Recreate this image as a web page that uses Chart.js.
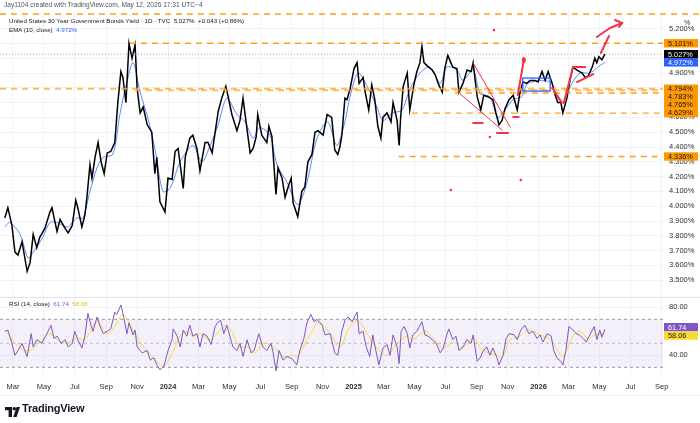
<!DOCTYPE html>
<html>
<head>
<meta charset="utf-8">
<script src="https://cdn.jsdelivr.net/npm/chart.js@4.4.1/dist/chart.umd.min.js"></script>
<style>
  body { margin: 0; background: #fff; width: 700px; height: 423px; overflow: hidden; position: relative; font-family: "Liberation Sans", Arial, sans-serif; }
  #pricePane { position: absolute; left: 0; top: 0; width: 700px; height: 297px; }
  #rsiPane { position: absolute; left: 0; top: 297px; width: 700px; height: 126px; }
  .txt { position: absolute; white-space: nowrap; color: #131722; font-size: 6.6px; line-height: 1; }
  .sep { position: absolute; left: 0; width: 700px; height: 1px; background: #e0e3eb; }
</style>
</head>
<body>
<div id="pricePane"><canvas id="priceChart"></canvas></div>
<div id="rsiPane"><canvas id="rsiChart"></canvas></div>
<div class="sep" style="top:297px"></div>
<div class="sep" style="top:395px;background:#eceef2"></div>

<div class="txt" style="left:4px;top:2px;color:#50535e">Jay1104 created with TradingView.com, May 12, 2026 17:31 UTC−4</div>
<div class="txt" style="left:9px;top:18px;font-size:6.2px">United States 30 Year Government Bonds Yield · 1D · TVC&nbsp; 5.027%&nbsp; +0.043 (+0.86%)</div>
<div class="txt" style="left:9px;top:26.5px;font-size:6.2px">EMA (10, close)&nbsp; <span style="color:#2962ff">4.972%</span></div>
<div class="txt" style="left:9px;top:301px;font-size:6.2px">RSI (14, close)&nbsp; <span style="color:#7e57c2">61.74</span>&nbsp; <span style="color:#f0b90b">58.06</span></div>
<div class="txt" style="left:684px;top:19px;font-size:7px;color:#2a2e39">%</div>

<div style="position:absolute;left:5px;top:403px;">
  <svg width="16" height="10" viewBox="0 0 16 10"><path d="M0 0h7v10H3.6V3.3H0z" fill="#131722"/><circle cx="9.3" cy="1.8" r="1.8" fill="#131722"/><path d="M8.2 10L11.6 0H15L11.6 10z" fill="#131722"/></svg>
</div>
<div class="txt" style="left:22px;top:402.5px;font-size:11px;font-weight:bold;letter-spacing:-0.2px">TradingView</div>

<script>
// --- price (daily close) ---
const priceDates = [
  '2023-02-13','2023-02-19','2023-02-27','2023-03-05','2023-03-11','2023-03-19','2023-03-29','2023-04-04','2023-04-10','2023-04-17',
  '2023-04-23','2023-05-03','2023-05-13','2023-05-17','2023-05-27','2023-06-02','2023-06-12','2023-06-18','2023-06-26','2023-07-03',
  '2023-07-07','2023-07-15','2023-07-21','2023-07-25','2023-07-31','2023-08-04','2023-08-10','2023-08-16','2023-08-22','2023-08-28',
  '2023-09-03','2023-09-10','2023-09-18','2023-09-24','2023-09-30','2023-10-04','2023-10-10','2023-10-16','2023-10-22','2023-10-28',
  '2023-11-01','2023-11-07','2023-11-13','2023-11-21','2023-11-30','2023-12-06','2023-12-10','2023-12-16','2023-12-26','2024-01-01',
  '2024-01-09','2024-01-15','2024-01-21','2024-01-31','2024-02-04','2024-02-13','2024-02-19','2024-02-27','2024-03-04','2024-03-14',
  '2024-03-20','2024-03-28','2024-04-03','2024-04-09','2024-04-16','2024-04-24','2024-04-28','2024-05-06','2024-05-16','2024-05-22',
  '2024-05-28','2024-06-03','2024-06-11','2024-06-17','2024-06-23','2024-06-26','2024-07-04','2024-07-14','2024-07-18','2024-07-24',
  '2024-08-01','2024-08-05','2024-08-13','2024-08-19','2024-08-25','2024-08-31','2024-09-04','2024-09-13','2024-09-21','2024-09-27',
  '2024-10-03','2024-10-11','2024-10-17','2024-10-23','2024-11-02','2024-11-10','2024-11-19','2024-11-25','2024-12-01','2024-12-05',
  '2024-12-09','2024-12-15','2024-12-19','2024-12-25','2025-01-02','2025-01-08','2025-01-12','2025-01-20','2025-01-24','2025-01-31',
  '2025-02-06','2025-02-12','2025-02-18','2025-02-24','2025-02-28','2025-03-08','2025-03-16','2025-03-20','2025-03-28','2025-04-01',
  '2025-04-04','2025-04-09','2025-04-17','2025-04-22','2025-04-30','2025-05-06','2025-05-12','2025-05-16','2025-05-20','2025-05-26',
  '2025-06-05','2025-06-11','2025-06-17','2025-06-25','2025-06-30','2025-07-06','2025-07-12','2025-07-16','2025-07-24','2025-07-28',
  '2025-08-05','2025-08-13','2025-08-21','2025-08-25','2025-08-29','2025-09-02','2025-09-09','2025-09-15','2025-09-23','2025-10-03',
  '2025-10-09','2025-10-15','2025-10-21','2025-10-27','2025-11-04','2025-11-12','2025-11-20','2025-11-25','2025-12-01','2025-12-09',
  '2025-12-15','2025-12-25','2025-12-31','2026-01-08','2026-01-14','2026-01-20','2026-01-28','2026-02-02','2026-02-08','2026-02-14',
  '2026-02-18','2026-02-26','2026-03-04','2026-03-10','2026-03-18','2026-03-28','2026-04-03','2026-04-09','2026-04-17','2026-04-22',
  '2026-04-26','2026-04-30','2026-05-06','2026-05-12'
];
const priceValues = [
  3.92,3.99,3.87,3.69,3.67,3.76,3.56,3.62,3.81,3.72,
  3.79,3.85,3.96,3.99,3.83,3.91,3.85,3.82,3.87,4.04,
  3.99,3.86,3.94,4.06,4.28,4.19,4.33,4.43,4.30,4.22,
  4.36,4.37,4.43,4.70,4.91,4.87,4.70,5.10,5.00,5.09,
  4.80,4.63,4.67,4.55,4.50,4.22,4.33,4.03,3.96,4.19,
  4.18,4.37,4.39,4.12,4.33,4.46,4.48,4.39,4.24,4.43,
  4.43,4.36,4.50,4.64,4.73,4.81,4.75,4.62,4.51,4.58,
  4.73,4.57,4.36,4.39,4.47,4.62,4.48,4.43,4.54,4.47,
  4.08,4.26,4.19,4.06,4.13,4.19,4.02,3.93,4.10,4.13,
  4.30,4.35,4.50,4.51,4.48,4.62,4.60,4.38,4.35,4.40,
  4.48,4.73,4.72,4.79,4.93,4.97,4.83,4.87,4.77,4.65,
  4.82,4.72,4.54,4.46,4.60,4.63,4.57,4.70,4.58,4.41,
  4.60,4.81,4.90,4.65,4.82,4.91,4.97,5.08,4.97,4.95,
  4.92,4.89,4.83,4.77,4.93,5.02,4.97,4.94,4.93,4.77,
  4.83,4.92,4.91,4.97,4.85,4.74,4.65,4.75,4.74,4.72,
  4.63,4.55,4.58,4.66,4.72,4.75,4.65,4.76,4.84,4.83,
  4.85,4.85,4.84,4.91,4.85,4.91,4.83,4.76,4.70,4.70,
  4.63,4.73,4.85,4.94,4.92,4.90,4.87,4.88,4.94,5.00,
  4.97,5.01,4.99,5.027
];

// --- EMA (10, close) ---
const emaDates = [
  '2023-02-13','2023-02-23','2023-03-15','2023-03-31','2023-04-10','2023-04-29','2023-05-13','2023-05-27','2023-06-16','2023-07-05',
  '2023-07-17','2023-07-31','2023-08-14','2023-08-26','2023-09-14','2023-09-28','2023-10-12','2023-10-24','2023-11-07','2023-11-22',
  '2023-12-06','2023-12-22','2024-01-05','2024-01-25','2024-02-19','2024-03-08','2024-03-24','2024-04-09','2024-04-26','2024-05-16',
  '2024-06-01','2024-06-17','2024-06-30','2024-07-20','2024-08-03','2024-08-23','2024-09-13','2024-10-01','2024-10-21','2024-11-11',
  '2024-11-29','2024-12-15','2024-12-25','2025-01-10','2025-01-28','2025-02-16','2025-02-28','2025-03-20','2025-04-07','2025-04-22',
  '2025-05-12','2025-06-01','2025-06-21','2025-07-04','2025-07-24','2025-08-05','2025-08-25','2025-09-08','2025-09-27','2025-10-13',
  '2025-10-31','2025-11-12','2025-11-29','2025-12-11','2026-01-24','2026-02-06','2026-02-18','2026-03-08','2026-03-24','2026-04-12',
  '2026-05-02','2026-05-12'
];
const emaValues = [
  3.86,3.89,3.81,3.65,3.69,3.79,3.89,3.89,3.86,3.92,
  3.92,4.10,4.26,4.33,4.35,4.62,4.84,4.97,4.77,4.60,
  4.39,4.10,4.12,4.30,4.41,4.30,4.41,4.55,4.73,4.62,
  4.57,4.46,4.53,4.48,4.28,4.16,4.01,4.16,4.46,4.57,
  4.41,4.57,4.74,4.90,4.81,4.67,4.58,4.63,4.65,4.79,
  4.90,4.94,4.83,4.94,4.92,4.85,4.92,4.76,4.74,4.60,
  4.67,4.72,4.74,4.83,4.84,4.74,4.70,4.83,4.90,4.90,
  4.95,4.972
];

// --- RSI (14, close) and its moving average ---
const rsiDates = [
  '2023-02-13','2023-02-19','2023-02-27','2023-03-05','2023-03-11','2023-03-19','2023-03-29','2023-04-06','2023-04-10','2023-04-17',
  '2023-04-27','2023-05-07','2023-05-15','2023-05-21','2023-05-27','2023-06-04','2023-06-12','2023-06-18','2023-06-26','2023-07-01',
  '2023-07-07','2023-07-15','2023-07-21','2023-07-27','2023-08-02','2023-08-06','2023-08-14','2023-08-20','2023-08-26','2023-09-03',
  '2023-09-10','2023-09-18','2023-09-22','2023-09-30','2023-10-04','2023-10-12','2023-10-16','2023-10-24','2023-10-28','2023-11-01',
  '2023-11-11','2023-11-21','2023-11-27','2023-12-04','2023-12-10','2023-12-16','2023-12-24','2024-01-01','2024-01-09','2024-01-11',
  '2024-01-19','2024-01-25','2024-01-31','2024-02-07','2024-02-13','2024-02-19','2024-02-27','2024-03-04','2024-03-10','2024-03-18',
  '2024-03-26','2024-04-03','2024-04-09','2024-04-14','2024-04-20','2024-04-26','2024-05-04','2024-05-08','2024-05-16','2024-05-22',
  '2024-05-28','2024-06-05','2024-06-13','2024-06-19','2024-06-28','2024-07-06','2024-07-14','2024-07-22','2024-07-26','2024-08-01',
  '2024-08-07','2024-08-15','2024-08-23','2024-09-02','2024-09-11','2024-09-17','2024-09-25','2024-10-01','2024-10-09','2024-10-15',
  '2024-10-21','2024-10-31','2024-11-06','2024-11-16','2024-11-25','2024-12-01','2024-12-09','2024-12-15','2024-12-21','2024-12-29',
  '2025-01-08','2025-01-12','2025-01-20','2025-01-26','2025-02-02','2025-02-08','2025-02-14','2025-02-20','2025-02-28','2025-03-08',
  '2025-03-14','2025-03-20','2025-03-28','2025-04-01','2025-04-05','2025-04-11','2025-04-17','2025-04-22','2025-04-28','2025-05-06',
  '2025-05-16','2025-05-22','2025-05-28','2025-06-05','2025-06-13','2025-06-21','2025-06-27','2025-07-04','2025-07-08','2025-07-16',
  '2025-07-22','2025-07-28','2025-08-05','2025-08-13','2025-08-21','2025-08-25','2025-09-02','2025-09-08','2025-09-13','2025-09-21',
  '2025-09-27','2025-10-03','2025-10-11','2025-10-15','2025-10-23','2025-10-29','2025-11-04','2025-11-14','2025-11-20','2025-11-27',
  '2025-12-05','2025-12-13','2025-12-21','2025-12-29','2026-01-04','2026-01-10','2026-01-18','2026-01-26','2026-01-31','2026-02-06',
  '2026-02-14','2026-02-18','2026-02-24','2026-03-02','2026-03-10','2026-03-16','2026-03-22','2026-03-30','2026-04-05','2026-04-11',
  '2026-04-21','2026-04-26','2026-05-02','2026-05-06','2026-05-12'
];
const rsiValues = [
  60,61,50,40,44,50,39,58,47,53,
  50,58,65,54,56,50,53,47,50,60,
  53,46,56,75,65,60,72,64,58,60,
  62,76,74,82,75,58,67,57,61,47,
  42,44,36,38,32,28,31,44,53,62,
  56,47,61,56,65,56,58,47,58,56,
  49,64,68,69,58,65,53,47,44,50,
  39,53,42,44,58,47,44,50,43,27,
  44,36,39,37,32,44,54,67,74,68,
  70,65,57,58,42,40,60,69,72,68,
  76,58,60,47,39,57,44,32,46,49,
  40,57,47,33,60,64,58,46,57,60,
  68,57,56,53,50,42,46,57,62,53,
  56,44,47,53,50,57,35,38,43,47,
  40,46,38,32,40,54,58,57,53,61,
  65,58,60,54,57,51,58,56,44,38,
  35,32,44,64,61,58,57,54,51,56,
  64,53,61,55,61.74
];
const rsiMaDates = [
  '2023-02-13','2023-03-15','2023-04-04','2023-04-23','2023-05-13','2023-06-02','2023-06-22','2023-07-07','2023-07-21','2023-08-14',
  '2023-09-03','2023-09-18','2023-10-04','2023-10-24','2023-11-13','2023-12-02','2023-12-22','2024-01-05','2024-01-25','2024-02-07',
  '2024-02-19','2024-03-04','2024-03-24','2024-04-13','2024-04-26','2024-05-08','2024-05-22','2024-06-07','2024-06-21','2024-07-06',
  '2024-07-20','2024-08-03','2024-08-15','2024-09-04','2024-09-13','2024-10-01','2024-10-13','2024-10-23','2024-11-16','2024-12-05',
  '2024-12-25','2025-01-10','2025-01-28','2025-02-16','2025-03-08','2025-03-28','2025-04-17','2025-04-28','2025-05-22','2025-06-07',
  '2025-06-27','2025-07-16','2025-08-05','2025-08-25','2025-09-13','2025-10-11','2025-10-21','2025-11-06','2025-11-25','2025-12-11',
  '2026-01-04','2026-01-24','2026-02-08','2026-02-18','2026-03-10','2026-03-24','2026-04-09','2026-04-22','2026-05-12'
];
const rsiMaValues = [
  61,46,44,51,58,51,51,54,53,68,
  58,64,74,61,47,39,31,38,56,60,
  56,58,53,61,65,58,47,47,42,50,
  49,44,39,40,39,53,61,68,58,47,
  64,69,58,46,40,50,56,53,60,54,
  46,51,46,54,44,40,38,53,56,61,
  57,53,44,39,56,60,54,57,58.06
];

// --- axes ---
const priceTicks = [3.5,3.6,3.7,3.8,3.9,4.0,4.1,4.2,4.3,4.4,4.5,4.6,4.7,4.8,4.9,5.0,5.1,5.2];
const rsiTicks = [40, 80];
const monthTickDates = [
  '2023-03-01','2023-05-01','2023-07-01','2023-09-01','2023-11-01','2024-01-01','2024-03-01','2024-05-01','2024-07-01','2024-09-01',
  '2024-11-01','2025-01-01','2025-03-01','2025-05-01','2025-07-01','2025-09-01','2025-11-01','2026-01-01','2026-03-01','2026-05-01',
  '2026-07-01','2026-09-01'
];
const monthTickLabels = [
  'Mar','May','Jul','Sep','Nov','2024','Mar','May','Jul','Sep',
  'Nov','2025','Mar','May','Jul','Sep','Nov','2026','Mar','May',
  'Jul','Sep'
];

// --- drawings on the chart (horizontal levels, pen strokes) ---
const levelValues = [5.299, 5.101, 4.794, 4.783, 4.765, 4.629, 4.336];
const levelStarts = ['2023-02-03','2023-10-18','2023-02-03','2023-10-28','2025-07-20','2025-04-26','2025-03-31'];
const lastPrice = 5.027;
const lastEma = 4.972;
const redStrokes = [
  [['2025-08-25',4.968],['2025-11-06',4.535]],
  [['2025-07-26',4.772],['2025-10-21',4.515]],
  [['2025-08-25',4.562],['2025-09-13',4.562]],
  [['2025-10-11',4.495],['2025-11-02',4.495]],
  [['2025-11-12',4.603],['2025-11-23',4.603]],
  [['2025-11-21',4.751],['2025-12-03',4.988]],
  [['2026-01-28',4.80],['2026-02-16',4.70]],
  [['2026-02-20',4.697],['2026-03-10',4.941]],
  [['2026-03-10',4.941],['2026-04-03',4.941]],
  [['2026-03-18',4.839],['2026-04-19',4.893]],
  [['2026-05-04',5.035],['2026-05-20',5.15]],
  [['2026-04-26',5.143],['2026-05-22',5.204],['2026-06-15',5.238]],
  [['2026-06-01',5.258],['2026-06-15',5.238],['2026-06-09',5.211]]
];
const redDots = [['2025-10-05',5.19],['2025-09-27',4.468],['2025-11-27',4.177],['2025-07-12',4.109]];
const redBlob = ['2025-12-03', 4.988];
const blueBox = [['2025-12-01',4.866],['2026-01-24',4.778]];

// ---------------------------------------------------------------
const X_MIN = 33.5, X_MAX = 1341.6;
function dayNum(s) {
  const [y, m, d] = s.split('-').map(Number);
  return (Date.UTC(y, m - 1, d) - Date.UTC(2023, 0, 1)) / 864e5;
}
const toPts = (dates, vals) => dates.map((d, i) => ({ x: dayNum(d), y: vals[i] }));

const gridColor = '#f0f3fa';
const axisFont = { family: '"Liberation Sans", Arial, sans-serif', size: 7.5 };

function axisBox(ctx, y, text, bg, fg) {
  ctx.fillStyle = bg;
  ctx.fillRect(664, y - 4.2, 34, 8.4);
  ctx.fillStyle = fg;
  ctx.font = '7.3px "Liberation Sans", Arial, sans-serif';
  ctx.textBaseline = 'middle';
  ctx.textAlign = 'left';
  ctx.fillText(text, 668, y + 0.3);
}

// y axes: fixed width, and no extra label padding above/below the plot
function fitRightAxis(s) {
  s.width = 37;
  s.paddingTop = 0;
  s.paddingBottom = 0;
}

const drawingsPlugin = {
  id: 'drawings',
  afterDatasetsDraw(chart) {
    const { ctx, chartArea, scales } = chart;
    const sx = d => scales.x.getPixelForValue(dayNum(d));
    const sy = v => scales.y.getPixelForValue(v);
    ctx.save();

    // current price line
    ctx.setLineDash([1, 2]);
    ctx.strokeStyle = '#9598a1';
    ctx.lineWidth = 0.8;
    ctx.beginPath();
    ctx.moveTo(chartArea.left, sy(lastPrice));
    ctx.lineTo(chartArea.right, sy(lastPrice));
    ctx.stroke();

    // horizontal levels
    levelValues.forEach((v, i) => {
      const light = (i === 2 || i === 3);
      ctx.setLineDash([6, 5]);
      ctx.strokeStyle = light ? 'rgba(255,167,38,0.75)' : 'rgba(255,152,0,0.9)';
      ctx.lineWidth = light ? 2 : 1.4;
      ctx.beginPath();
      ctx.moveTo(Math.max(chartArea.left, sx(levelStarts[i])), sy(v));
      ctx.lineTo(i === 0 ? chart.width : chartArea.right, sy(v));
      ctx.stroke();
    });
    ctx.setLineDash([]);

    // blue box
    ctx.strokeStyle = '#2962ff';
    ctx.lineWidth = 1.3;
    const bx0 = sx(blueBox[0][0]), bx1 = sx(blueBox[1][0]);
    const by0 = sy(blueBox[0][1]), by1 = sy(blueBox[1][1]);
    ctx.strokeRect(bx0, by0, bx1 - bx0, by1 - by0);

    // pen strokes
    ctx.strokeStyle = '#f23645';
    ctx.lineCap = 'round';
    ctx.lineJoin = 'round';
    redStrokes.forEach((s, i) => {
      ctx.lineWidth = i < 2 ? 1 : 2;
      ctx.beginPath();
      s.forEach((p, j) => {
        const x = sx(p[0]), y = sy(p[1]);
        if (j === 0) ctx.moveTo(x, y); else ctx.lineTo(x, y);
      });
      ctx.stroke();
    });
    ctx.fillStyle = '#f23645';
    redDots.forEach(p => {
      ctx.beginPath();
      ctx.arc(sx(p[0]), sy(p[1]), 1.3, 0, Math.PI * 2);
      ctx.fill();
    });
    ctx.beginPath();
    ctx.ellipse(sx(redBlob[0]), sy(redBlob[1]), 2, 3, 0, 0, Math.PI * 2);
    ctx.fill();
    ctx.restore();
  },
  afterDraw(chart) {
    const { ctx, scales } = chart;
    const sy = v => scales.y.getPixelForValue(v);
    ctx.save();
    axisBox(ctx, sy(levelValues[1]), levelValues[1].toFixed(3) + '%', '#ff9800', '#131722');
    axisBox(ctx, sy(lastPrice), lastPrice.toFixed(3) + '%', '#000000', '#ffffff');
    axisBox(ctx, sy(lastEma), lastEma.toFixed(3) + '%', '#2962ff', '#ffffff');
    // close levels: labels pushed down so they do not overlap
    const stack = [levelValues[2], levelValues[3], levelValues[4], levelValues[5]];
    let prev = null;
    stack.forEach(v => {
      let y = sy(v);
      if (prev !== null && y - prev < 8) y = prev + 8;
      axisBox(ctx, y, v.toFixed(3) + '%', '#ff9800', '#131722');
      prev = y;
    });
    axisBox(ctx, sy(levelValues[6]), levelValues[6].toFixed(3) + '%', '#ff9800', '#131722');
    ctx.restore();
  }
};

const rsiBandPlugin = {
  id: 'rsiBand',
  beforeDatasetsDraw(chart) {
    const { ctx, chartArea, scales } = chart;
    const y70 = scales.y.getPixelForValue(70), y30 = scales.y.getPixelForValue(30), y50 = scales.y.getPixelForValue(50);
    ctx.save();
    ctx.fillStyle = 'rgba(126,87,194,0.09)';
    ctx.fillRect(chartArea.left, y70, chartArea.right - chartArea.left, y30 - y70);
    ctx.setLineDash([3, 3]);
    ctx.lineWidth = 1;
    [[y70, '#9598a1'], [y30, '#9598a1'], [y50, 'rgba(149,152,161,0.6)']].forEach(([y, c]) => {
      ctx.strokeStyle = c;
      ctx.beginPath();
      ctx.moveTo(chartArea.left, y);
      ctx.lineTo(chartArea.right, y);
      ctx.stroke();
    });
    ctx.restore();
  },
  afterDraw(chart) {
    const { ctx, scales } = chart;
    const last = rsiValues[rsiValues.length - 1], lastMa = rsiMaValues[rsiMaValues.length - 1];
    let y1 = scales.y.getPixelForValue(last), y2 = scales.y.getPixelForValue(lastMa);
    const mid = (y1 + y2) / 2;
    if (y2 - y1 < 8.4) { y1 = mid - 4.2; y2 = mid + 4.2; }
    ctx.save();
    axisBox(ctx, y1, last.toFixed(2), '#7e57c2', '#ffffff');
    axisBox(ctx, y2, lastMa.toFixed(2), '#fdd835', '#131722');
    ctx.restore();
  }
};

const xScale = (showLabels) => ({
  type: 'linear',
  min: X_MIN,
  max: X_MAX,
  grid: { color: gridColor, drawTicks: false },
  border: { display: false },
  afterBuildTicks: s => { s.ticks = monthTickDates.map(d => ({ value: dayNum(d) })); },
  ticks: {
    display: showLabels,
    autoSkip: false,
    maxRotation: 0,
    padding: 5,
    color: '#2a2e39',
    font: c => ({ ...axisFont, weight: (monthTickLabels[c.index] || '').startsWith('20') ? 'bold' : 'normal' }),
    callback: (v, i) => monthTickLabels[i]
  },
  afterFit: s => {
    s.height = showLabels ? 16 : 0;
    s.paddingLeft = 0;
    s.paddingRight = 0;
  }
});

new Chart(document.getElementById('priceChart'), {
  type: 'line',
  data: {
    datasets: [
      { data: toPts(priceDates, priceValues), borderColor: '#000000', borderWidth: 1.5, pointRadius: 0, tension: 0 },
      { data: toPts(emaDates, emaValues), borderColor: 'rgba(41,98,255,0.75)', borderWidth: 1, pointRadius: 0, tension: 0.3 }
    ]
  },
  options: {
    responsive: true,
    maintainAspectRatio: false,
    animation: false,
    layout: { autoPadding: false, padding: { top: 10, left: 0, right: 0, bottom: 0 } },
    plugins: { legend: { display: false }, tooltip: { enabled: false } },
    scales: {
      x: xScale(false),
      y: {
        position: 'right',
        min: 3.3865,
        max: 5.3257,
        grid: { color: gridColor, drawTicks: false },
        border: { display: false },
        afterBuildTicks: s => { s.ticks = priceTicks.map(v => ({ value: v })); },
        ticks: { padding: 6, color: '#2a2e39', font: axisFont, callback: v => v.toFixed(3) + '%' },
        afterFit: fitRightAxis
      }
    }
  },
  plugins: [drawingsPlugin]
});

new Chart(document.getElementById('rsiChart'), {
  type: 'line',
  data: {
    datasets: [
      { data: toPts(rsiDates, rsiValues), borderColor: '#7e57c2', borderWidth: 1, pointRadius: 0, tension: 0 },
      { data: toPts(rsiMaDates, rsiMaValues), borderColor: '#fdd835', borderWidth: 1, pointRadius: 0, tension: 0.35 }
    ]
  },
  options: {
    responsive: true,
    maintainAspectRatio: false,
    animation: false,
    layout: { autoPadding: false, padding: { top: 0, left: 0, right: 0, bottom: 30 } },
    plugins: { legend: { display: false }, tooltip: { enabled: false } },
    scales: {
      x: xScale(true),
      y: {
        position: 'right',
        min: 21.92,
        max: 88.58,
        grid: { color: gridColor, drawTicks: false },
        border: { display: false },
        afterBuildTicks: s => { s.ticks = rsiTicks.map(v => ({ value: v })); },
        ticks: { padding: 6, color: '#2a2e39', font: axisFont, callback: v => v.toFixed(2) },
        afterFit: fitRightAxis
      }
    }
  },
  plugins: [rsiBandPlugin]
});
</script>
</body>
</html>
